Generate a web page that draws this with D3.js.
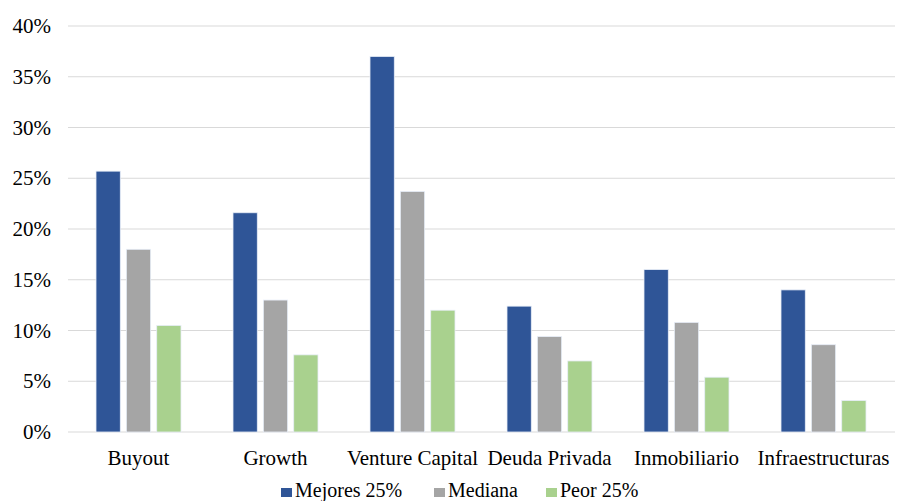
<!DOCTYPE html>
<html>
<head>
<meta charset="utf-8">
<script src="https://cdn.jsdelivr.net/npm/d3@7"></script>
<style>
  body { margin: 0; background: #fff; }
</style>
</head>
<body>
<svg width="898" height="501"></svg>
<script>
const categories = ["Buyout", "Growth", "Venture Capital", "Deuda Privada", "Inmobiliario", "Infraestructuras"];
const seriesNames = ["Mejores 25%", "Mediana", "Peor 25%"];
const mejores = [25.7, 21.6, 37.0, 12.4, 16.0, 14.0];
const mediana = [18.0, 13.0, 23.7, 9.4, 10.8, 8.6];
const peor = [10.5, 7.6, 12.0, 7.0, 5.4, 3.1];
const yTicks = [0, 5, 10, 15, 20, 25, 30, 35, 40];
const colors = ["#2F5597", "#A5A5A5", "#A9D18E"];

const seriesValues = [mejores, mediana, peor];
const data = categories.map((c, i) => ({
    cat: c,
    vals: seriesNames.map((s, j) => ({ key: s, value: seriesValues[j][i] }))
}));

const serif = "'Liberation Serif', 'DejaVu Serif', serif";
const svg = d3.select("svg")
    .attr("font-family", serif);
const plotLeft = 70, plotRight = 892, plotTop = 26, plotBottom = 432;

const x0 = d3.scaleBand()
    .domain(categories)
    .range([plotLeft, plotRight])
    .padding(0);

const x1 = d3.scaleBand()
    .domain(seriesNames)
    .range([26, x0.bandwidth() - 26])
    .paddingInner(0.2);

const y = d3.scaleLinear()
    .domain([0, 40])
    .range([plotBottom, plotTop]);

// gridlines
svg.append("g")
    .selectAll("line")
    .data(yTicks)
    .enter()
    .append("line")
    .attr("x1", 68)
    .attr("x2", 895)
    .attr("y1", d => y(d))
    .attr("y2", d => y(d))
    .attr("stroke", "#d9d9d9")
    .attr("stroke-width", 1.2);

// y labels
svg.append("g")
    .selectAll("text")
    .data(yTicks)
    .enter()
    .append("text")
    .attr("x", 51)
    .attr("y", d => y(d) + 7)
    .attr("text-anchor", "end")
    .attr("font-family", serif)
    .attr("font-size", "21px")
    .text(d => d + "%");

// bars
const groups = svg.append("g")
    .selectAll("g")
    .data(data)
    .enter()
    .append("g")
    .attr("transform", d => `translate(${x0(d.cat)},0)`);

groups.selectAll("rect")
    .data(d => d.vals)
    .enter()
    .append("rect")
    .attr("x", d => x1(d.key))
    .attr("width", x1.bandwidth())
    .attr("y", d => y(d.value))
    .attr("height", d => y(0) - y(d.value))
    .attr("fill", (d, i) => colors[i])
    .attr("stroke", "#e8eef8")
    .attr("stroke-width", 0.8);

// category labels
svg.append("g")
    .selectAll("text")
    .data(categories)
    .enter()
    .append("text")
    .attr("x", d => x0(d) + x0.bandwidth() / 2)
    .attr("y", 465)
    .attr("text-anchor", "middle")
    .attr("font-family", serif)
    .attr("font-size", "21px")
    .text(d => d);

// legend
const legendX = [281, 434, 546];
const legend = svg.append("g");
seriesNames.forEach((s, i) => {
    legend.append("rect")
        .attr("x", legendX[i])
        .attr("y", 488)
        .attr("width", 11)
        .attr("height", 9)
        .attr("fill", colors[i]);
    legend.append("text")
        .attr("x", legendX[i] + 14)
        .attr("y", 497)
        .attr("font-family", serif)
        .attr("font-size", "20px")
        .text(s);
});
</script>
</body>
</html>
